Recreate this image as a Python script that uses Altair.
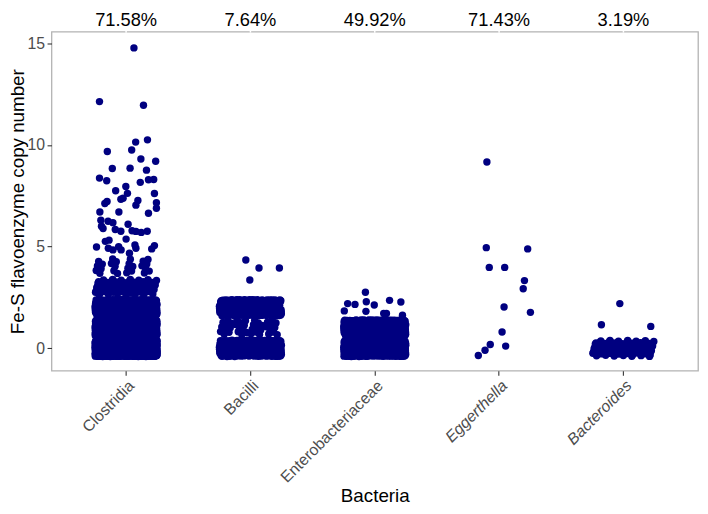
import json
import altair as alt
import pandas as pd

FONT = "Liberation Sans"

categories = ["Clostridia", "Bacilli", "Enterobacteriaceae", "Eggerthella", "Bacteroides"]
italic_categories = ["Eggerthella", "Bacteroides"]
percent_labels = ["71.58%", "7.64%", "49.92%", "71.43%", "3.19%"]

# Overplotted blocks: integer copy number and number of genomes at that level
dense_category = ["Clostridia"] * 5 + ["Bacilli"] * 3 + ["Enterobacteriaceae"] * 2 + ["Bacteroides"]
dense_level = [0, 1, 2, 3, 4, 0, 1, 2, 0, 1, 0]
dense_count = [1400, 800, 500, 70, 25, 500, 40, 400, 650, 550, 91]

# Individually visible points: plotted copy number and horizontal jitter (fraction of a category)
clostridia_y = [14.77, 12.13, 11.95, 10.25, 10.14, 9.68, 9.75, 9.31, 9.20, 8.84, 8.86, 8.76,
                8.37, 8.24, 8.16, 8.29, 8.30, 7.96, 7.75, 7.62, 7.61, 7.33, 7.38, 7.22, 7.12,
                7.27, 7.04, 7.16, 6.89, 6.70, 6.70, 6.64, 6.30, 6.25, 6.18, 6.00, 5.89, 6.10,
                5.84, 5.76, 5.78, 5.75, 5.70, 5.76, 5.37, 5.26, 5.32, 4.98, 4.92, 4.84, 5.00,
                4.84, 5.08, 4.92, 4.89, 5.05, 4.68]
clostridia_jx = [0.063, -0.214, 0.14, 0.172, 0.077, -0.151, 0.045, 0.119, 0.238, -0.111, 0.032, 0.164,
                 -0.214, -0.156, 0.114, 0.18, 0.222, -0.002, -0.084, 0.011, 0.228, -0.042, -0.024, -0.153, -0.171,
                 0.095, 0.079, 0.244, 0.244, -0.211, -0.058, 0.18, -0.203, -0.145, -0.106, -0.198, -0.185, 0.016,
                 -0.087, -0.042, 0.048, 0.079, 0.122, 0.17, 0.0, -0.167, -0.137, -0.238, -0.143, -0.106, -0.06,
                 -0.04, 0.071, 0.079, 0.206, 0.228, 0.027]
bacilli_y = [4.34, 3.95, 3.95, 3.36]
bacilli_jx = [-0.037, 0.069, 0.233, -0.005]
entero_y = [2.76, 2.20, 2.16, 1.84, 2.29, 2.13, 1.82, 2.36, 2.28, 1.71, 1.71, 1.63]
entero_jx = [-0.075, -0.218, -0.159, -0.245, -0.068, -0.004, -0.071, 0.119, 0.21, 0.072, 0.094, 0.223]
eggerthella_y = [9.16, 4.95, 4.89, 3.98, 3.98, 3.33, 2.93, 2.03, 1.77, 0.80, 0.19, 0.11, -0.09, -0.35]
eggerthella_jx = [-0.098, -0.103, 0.23, -0.079, 0.045, 0.204, 0.194, 0.04, 0.252, 0.024, -0.071, 0.053, -0.113, -0.167]
bacteroides_y = [2.20, 1.16, 1.08]
bacteroides_jx = [-0.029, -0.177, 0.22]

rows = []
for cat, lvl, n in zip(dense_category, dense_level, dense_count):
    for k in range(1, n + 1):
        rows.append({"category": cat, "level": lvl, "k": k})
for cat, ys, xs in [("Clostridia", clostridia_y, clostridia_jx),
                    ("Bacilli", bacilli_y, bacilli_jx),
                    ("Enterobacteriaceae", entero_y, entero_jx),
                    ("Eggerthella", eggerthella_y, eggerthella_jx),
                    ("Bacteroides", bacteroides_y, bacteroides_jx)]:
    for y, x in zip(ys, xs):
        rows.append({"category": cat, "value": y, "jx": x})
df = pd.DataFrame(rows)
pct_df = pd.DataFrame({"category": categories, "label": percent_labels})

italic_test = "indexof(" + json.dumps(italic_categories) + ", datum.value) >= 0"

x_enc = alt.X(
    "category:N", sort=categories, title="Bacteria",
    scale=alt.Scale(paddingInner=0, paddingOuter=0.1),
    axis=alt.Axis(labelAngle=-45, labelAlign="right", labelBaseline="top",
                  labelFontStyle={"condition": {"test": italic_test, "value": "italic"}, "value": "normal"},
                  labelPadding=2, titlePadding=1),
)

points = alt.Chart(df).transform_calculate(
    yv="isValid(datum.k) ? datum.level + ((datum.k * 0.5698402910) % 1 - 0.5) * 0.8 : datum.value",
    xo="isValid(datum.k) ? ((datum.k * 0.7548776662) % 1 - 0.5) * 0.5 : datum.jx",
).mark_circle(size=56, color="#000080", opacity=1).encode(
    x=x_enc,
    xOffset=alt.XOffset("xo:Q", scale=alt.Scale(domain=[-0.5, 0.5])),
    y=alt.Y("yv:Q", title="Fe-S flavoenzyme copy number",
            scale=alt.Scale(domain=[-1.1, 15.57], nice=False, zero=False),
            axis=alt.Axis(values=[0, 5, 10, 15], labelPadding=2.5, titlePadding=0)),
)

notches = alt.Chart(pct_df).mark_rule(color="white", strokeWidth=1.5).encode(
    x=x_enc,
    y=alt.value(-4),
    y2=alt.value(1),
)

texts = alt.Chart(pct_df).mark_text(fontSize=18.5, font=FONT, color="black", baseline="middle").encode(
    x=x_enc,
    y=alt.value(-11.5),
    text="label:N",
)

chart = alt.layer(points, notches, texts).properties(
    width=654, height=343,
    autosize=alt.AutoSizeParams(type="none"),
    padding={"left": 44, "top": 21, "right": 2, "bottom": 140},
).configure_view(
    stroke="#b3b3b3", strokeWidth=1.3,
).configure_axis(
    grid=False, domain=False,
    tickColor="#333333", tickSize=4.5, tickWidth=1.1,
    labelFont=FONT, labelFontSize=16, labelColor="#4d4d4d",
    titleFont=FONT, titleFontSize=19, titleColor="black", titleFontWeight="normal",
)

chart.save("out.html", embed_options={"renderer": "svg", "actions": False})
